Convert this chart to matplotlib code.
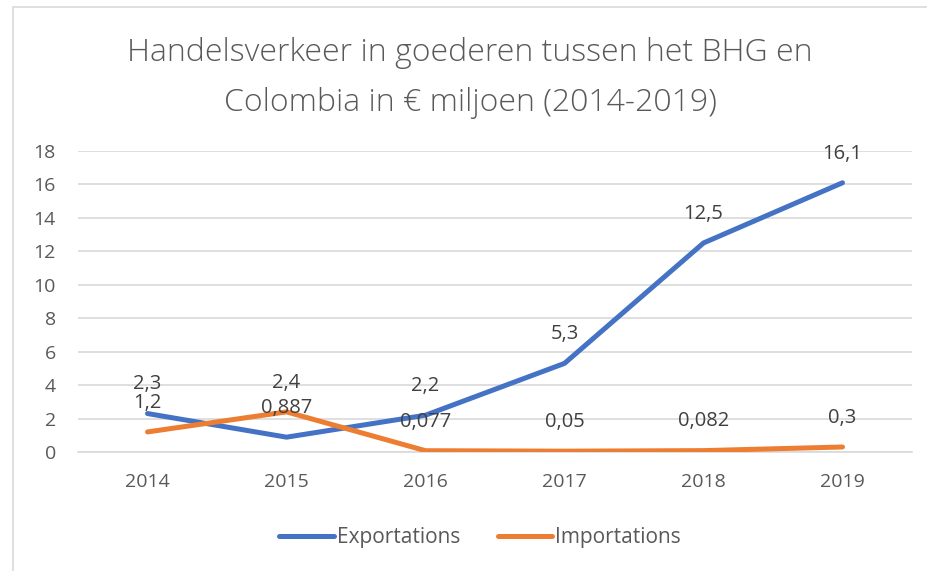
import matplotlib.pyplot as plt
from matplotlib.patches import Rectangle

years = ["2014", "2015", "2016", "2017", "2018", "2019"]
exportations = [2.3, 0.887, 2.2, 5.3, 12.5, 16.1]
importations = [1.2, 2.4, 0.077, 0.05, 0.082, 0.3]
export_labels = ["2,3", "0,887", "2,2", "5,3", "12,5", "16,1"]
import_labels = ["1,2", "2,4", "0,077", "0,05", "0,082", "0,3"]

plt.rcParams["font.family"] = ["Open Sans", "DejaVu Sans"]

fig = plt.figure(figsize=(9.27, 5.71), dpi=100)
ax = fig.add_axes([78 / 927, 1 - 452 / 571, (912 - 78) / 927, (452 - 151) / 571])

# chart border
fig.patches.append(Rectangle((13 / 927, -0.01), 1.0, 1 - 7 / 571 + 0.01,
                             transform=fig.transFigure, fill=False,
                             edgecolor="#d9d9d9", linewidth=1.2))

x = list(range(len(years)))
ax.plot(x, exportations, color="#4472c4", linewidth=3.6, solid_capstyle="round",
        label="Exportations", zorder=3)
ax.plot(x, importations, color="#ed7d31", linewidth=3.6, solid_capstyle="round",
        label="Importations", zorder=3)

for xi, v, s in zip(x, exportations, export_labels):
    ax.annotate(s, (xi, v), xytext=(0, 21), textcoords="offset points",
                ha="center", va="center", fontsize=14.5, color="#404040")
for xi, v, s in zip(x, importations, import_labels):
    ax.annotate(s, (xi, v), xytext=(0, 21), textcoords="offset points",
                ha="center", va="center", fontsize=14.5, color="#404040")

ax.set_xlim(-0.5, 5.5)
ax.set_ylim(0, 18)
ax.set_yticks(range(0, 19, 2))
ax.set_xticks(x)
ax.set_xticklabels(years)
ax.tick_params(axis="both", length=0, labelsize=14, labelcolor="#595959")
ax.tick_params(axis="y", pad=16)
ax.tick_params(axis="x", pad=15)
ax.grid(axis="y", color="#d9d9d9", linewidth=1.2)
ax.set_axisbelow(True)
for side in ["top", "right", "left"]:
    ax.spines[side].set_visible(False)
ax.spines["bottom"].set_color("#d9d9d9")
ax.spines["bottom"].set_linewidth(1.2)

fig.text(470 / 927, 1 - 53 / 571, "Handelsverkeer in goederen tussen het BHG en",
         ha="center", va="center", fontsize=23, color="#595959", fontweight="light")
fig.text(470 / 927, 1 - 103 / 571, "Colombia in € miljoen (2014-2019)",
         ha="center", va="center", fontsize=23, color="#595959", fontweight="light")

leg = fig.legend(loc="center", bbox_to_anchor=(480 / 927, 1 - 538 / 571), ncol=2,
                 frameon=False, fontsize=15, handlelength=2.6, handletextpad=0.15,
                 columnspacing=1.8)
for t in leg.get_texts():
    t.set_color("#595959")

fig.savefig("out.png", dpi=100)
